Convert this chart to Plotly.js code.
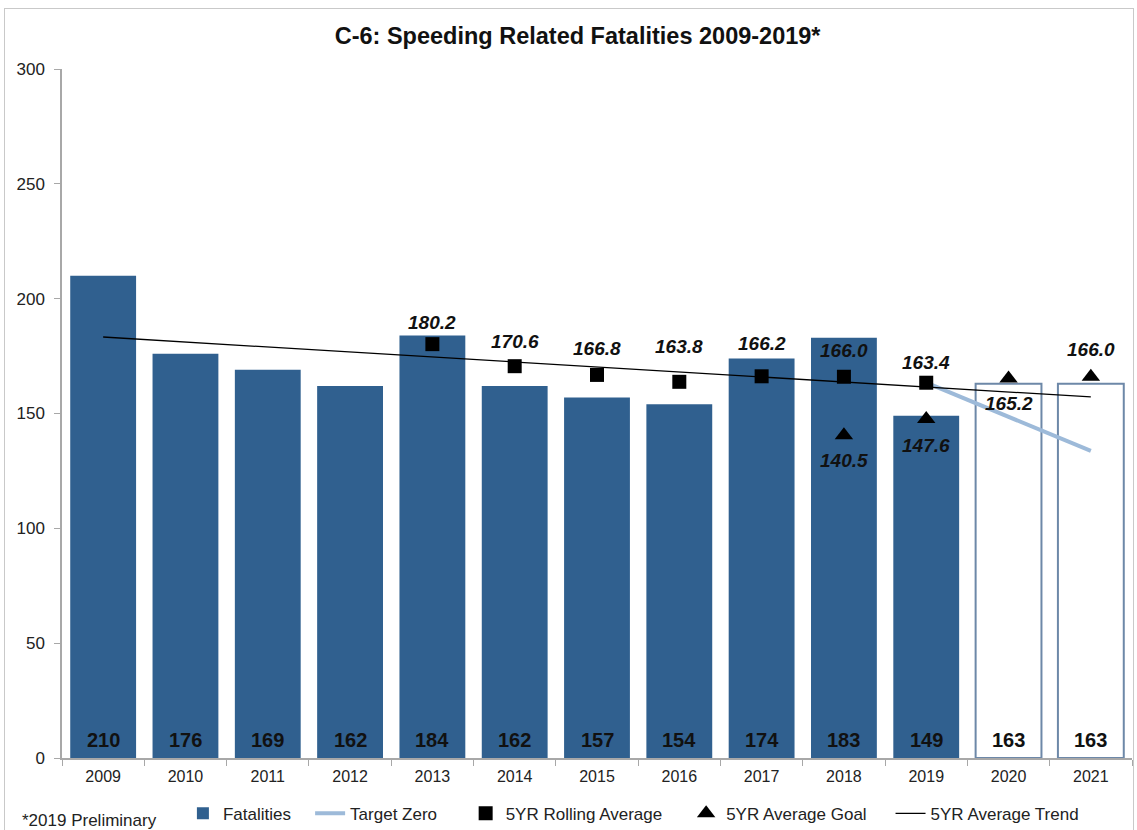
<!DOCTYPE html>
<html>
<head>
<meta charset="utf-8">
<script src="https://cdn.plot.ly/plotly-3.0.1.min.js"></script>
<style>
  body { margin: 0; background: #fff; }
  #wrap { position: relative; width: 1137px; height: 830px; }
  #chart { position: absolute; left: 0; top: 0; width: 1137px; height: 830px; }
  #frame { position: absolute; left: 4px; top: 8px; width: 1128px; height: 830px; border: 1.5px solid #c9c9c9; border-bottom: none; pointer-events: none; }
</style>
</head>
<body>
<div id="wrap">
  <div id="chart"></div>
  <div id="frame"></div>
</div>
<script>
// ---- data ----
const years = ['2009','2010','2011','2012','2013','2014','2015','2016','2017','2018','2019','2020','2021'];
const fatalYears = ['2009','2010','2011','2012','2013','2014','2015','2016','2017','2018','2019'];
const fatalities = [210, 176, 169, 162, 184, 162, 157, 154, 174, 183, 149];
const projYears = ['2020','2021'];
const projected = [163, 163];
const rollYears = ['2013','2014','2015','2016','2017','2018','2019'];
const rollingAvg = [180.2, 170.6, 166.8, 163.8, 166.2, 166.0, 163.4];
const goalYears = ['2018','2019','2020','2021'];
const avgGoal = [140.5, 147.6, 165.2, 166.0];
const targetYears = ['2019','2020','2021'];
const targetZero = [163.4, 148.6, 133.7];
const trendYears = ['2009','2021'];
const avgTrend = [183.3, 157.2];

// label placement (style only): pixel offsets of value labels from their markers
const rollLabelShift = [22, 25, 26, 35, 33, 26, 20];
const goalLabelShift = [-25, -26, -25, 27];

const FONT = 'Liberation Sans, Arial, sans-serif';
const barColor = '#30608f';
const labelFont = {family: FONT, size: 19, color: '#111', weight: 'bold', style: 'italic'};
const NB = '\u00A0';
const pad = n => NB.repeat(n);

const traces = [
  {
    type: 'bar', name: 'Fatalities' + pad(3), x: fatalYears, y: fatalities,
    marker: {color: barColor, line: {width: 0}}, hoverinfo: 'x+y'
  },
  {
    type: 'bar', name: 'Projected', x: projYears, y: projected, showlegend: false,
    marker: {color: '#ffffff', line: {color: '#6d88a8', width: 2}}, hoverinfo: 'x+y'
  },
  {
    type: 'scatter', mode: 'lines', name: 'Target Zero' + pad(5), x: targetYears, y: targetZero,
    line: {color: '#9dbad9', width: 4}
  },
  {
    type: 'scatter', mode: 'markers', name: '5YR Rolling Average' + pad(4), x: rollYears, y: rollingAvg,
    marker: {symbol: 'square', size: 14, color: '#000'}
  },
  {
    type: 'scatter', mode: 'markers', name: '5YR Average Goal' + pad(4), x: goalYears, y: avgGoal,
    marker: {symbol: 'triangle-up', size: 16, color: '#000'}
  },
  {
    type: 'scatter', mode: 'lines', name: '5YR Average Trend', x: trendYears, y: avgTrend,
    line: {color: '#000', width: 1.3}
  }
];

// value labels at the foot of each bar, built from the data arrays
// (category position given as index so it is not read as a number)
const barLabels = fatalYears.map((yr, i) => ({x: yr, v: fatalities[i]}))
  .concat(projYears.map((yr, i) => ({x: yr, v: projected[i]})))
  .map(d => ({
    x: years.indexOf(d.x), y: 0, xref: 'x', yref: 'y', yshift: 18, showarrow: false,
    text: String(d.v), xanchor: 'center', yanchor: 'middle',
    font: {family: FONT, size: 20, color: '#111', weight: 'bold'}
  }));

const pointLabels = (xs, vs, shifts) => xs.map((yr, i) => ({
  x: years.indexOf(yr), y: vs[i], xref: 'x', yref: 'y', yshift: shifts[i],
  showarrow: false, text: vs[i].toFixed(1), xanchor: 'center', yanchor: 'middle',
  font: labelFont
}));

const layout = {
  width: 1137, height: 830,
  margin: {l: 62, r: 5, t: 69, b: 72, autoexpand: false},
  paper_bgcolor: '#ffffff', plot_bgcolor: '#ffffff',
  font: {family: FONT, size: 17, color: '#222'},
  title: {
    text: 'C-6: Speeding Related Fatalities 2009-2019*',
    font: {family: FONT, size: 23.5, color: '#111', weight: 'bold'},
    x: 0.508, xanchor: 'center', y: 0.957, yanchor: 'middle'
  },
  barmode: 'overlay', bargap: 0.2,
  showlegend: true,
  legend: {
    orientation: 'h', x: 0.113, xanchor: 'left', y: -0.081, yanchor: 'middle',
    font: {family: FONT, size: 17, color: '#222'}, traceorder: 'normal',
    itemwidth: 30, bgcolor: 'rgba(0,0,0,0)'
  },
  xaxis: {
    type: 'category', categoryorder: 'array', categoryarray: years,
    range: [-0.5, years.length - 0.5], autorange: false,
    showline: true, linecolor: '#a8a8a8', linewidth: 1.5,
    ticks: 'outside', ticklen: 6, tickcolor: '#a8a8a8', tickson: 'boundaries',
    tickfont: {family: FONT, size: 16, color: '#222'}, ticklabelstandoff: 3,
    tickangle: 0,
    showgrid: false, zeroline: false, fixedrange: true
  },
  yaxis: {
    range: [0, 300], autorange: false, dtick: 50, tick0: 0,
    showline: true, linecolor: '#a8a8a8', linewidth: 1.5,
    ticks: 'outside', ticklen: 6, tickcolor: '#a8a8a8',
    tickfont: {family: FONT, size: 17, color: '#222'}, ticklabelstandoff: 6,
    showgrid: false, zeroline: false, fixedrange: true
  },
  annotations: [
    {
      text: '*2019 Preliminary', xref: 'paper', yref: 'paper',
      x: -0.0393, xanchor: 'left', y: -0.0914, yanchor: 'middle',
      showarrow: false, font: {family: FONT, size: 17, color: '#222'}
    }
  ].concat(barLabels)
   .concat(pointLabels(rollYears, rollingAvg, rollLabelShift))
   .concat(pointLabels(goalYears, avgGoal, goalLabelShift))
};

Plotly.newPlot('chart', traces, layout, {displayModeBar: false, responsive: false});
</script>
</body>
</html>
